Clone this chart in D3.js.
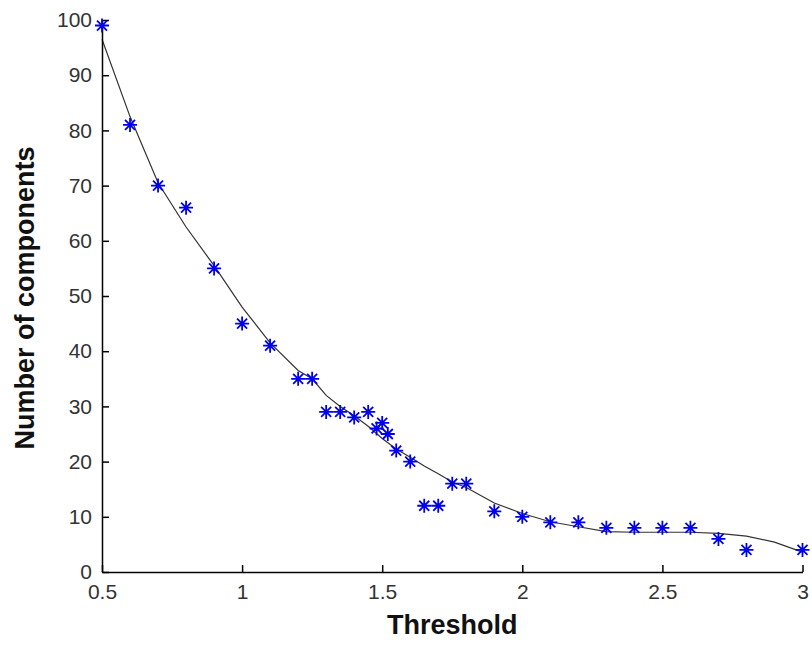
<!DOCTYPE html>
<html>
<head>
<meta charset="utf-8">
<script src="https://cdn.jsdelivr.net/npm/d3@7/dist/d3.min.js"></script>
<style>
  html, body { margin: 0; padding: 0; background: #fff; }
  svg { display: block; }
</style>
</head>
<body>
<svg id="chart" width="812" height="646"></svg>
<script>
// Measured data (threshold vs number of components)
const thresholds = [0.5, 0.6, 0.7, 0.8, 0.9, 1.0, 1.1, 1.2, 1.25, 1.3, 1.35, 1.4, 1.45, 1.48, 1.5, 1.52, 1.55, 1.6, 1.65, 1.7, 1.75, 1.8, 1.9, 2.0, 2.1, 2.2, 2.3, 2.4, 2.5, 2.6, 2.7, 2.8, 3.0];
const components = [99, 81, 70, 66, 55, 45, 41, 35, 35, 29, 29, 28, 29, 26, 27, 25, 22, 20, 12, 12, 16, 16, 11, 10, 9, 9, 8, 8, 8, 8, 6, 4, 4];

// Fitted curve
const fitX = [0.5, 0.6, 0.7, 0.8, 0.9, 1.0, 1.1, 1.2, 1.25, 1.3, 1.35, 1.4, 1.45, 1.5, 1.55, 1.6, 1.65, 1.7, 1.75, 1.8, 1.9, 2.0, 2.1, 2.2, 2.3, 2.4, 2.5, 2.6, 2.7, 2.8, 2.9, 3.0];
const fitY = [96.5, 82.5, 70.5, 62.5, 55.5, 48, 41.5, 36.5, 35, 32, 30, 28.3, 26.4, 24.2, 22.3, 20.8, 19.2, 17.8, 16.3, 15.3, 12.5, 10.6, 9.1, 8.2, 7.3, 7.2, 7.2, 7.2, 7.0, 6.5, 5.4, 3.6];

// Axis ticks
const xTicks = [0.5, 1, 1.5, 2, 2.5, 3];
const xTickLabels = ["0.5", "1", "1.5", "2", "2.5", "3"];
const yTicks = [0, 10, 20, 30, 40, 50, 60, 70, 80, 90, 100];
const xTitle = "Threshold";
const yTitle = "Number of components";

const svg = d3.select("#chart");
const x = d3.scaleLinear().domain([0.5, 3]).range([102, 802.5]);
const y = d3.scaleLinear().domain([0, 100]).range([572, 20]);

// Fitted line
svg.append("path")
  .datum(fitX.map((v, i) => [v, fitY[i]]))
  .attr("fill", "none")
  .attr("stroke", "#333")
  .attr("stroke-width", 1.2)
  .attr("d", d3.line().x(d => x(d[0])).y(d => y(d[1])));

// Axes
const font = "'Liberation Sans', Arial, Helvetica, sans-serif";
const xAxis = svg.append("g")
  .attr("transform", `translate(0,${y(0)})`)
  .call(d3.axisBottom(x).tickValues(xTicks).tickFormat((d, i) => xTickLabels[i]).tickSizeInner(-7).tickSizeOuter(0).tickPadding(12));
const yAxis = svg.append("g")
  .attr("transform", `translate(${x(0.5)},0)`)
  .call(d3.axisLeft(y).tickValues(yTicks).tickSizeInner(-7).tickSizeOuter(0).tickPadding(10));

[xAxis, yAxis].forEach(g => {
  g.select(".domain").attr("stroke", "#000").attr("stroke-width", 1.5);
  g.selectAll(".tick line").attr("stroke", "#000").attr("stroke-width", 1.5);
  g.selectAll(".tick text")
    .attr("fill", "#333")
    .style("font-family", font)
    .style("font-size", "21px");
});
xAxis.selectAll(".tick text").attr("dy", "0.71em");

// Star markers
const star = "M-7,0H7M0,-7V7M-5,-5L5,5M-5,5L5,-5";
svg.append("g")
  .selectAll("path")
  .data(thresholds.map((t, i) => [t, components[i]]))
  .join("path")
  .attr("transform", d => `translate(${x(d[0])},${y(d[1])})`)
  .attr("d", star)
  .attr("fill", "none")
  .attr("stroke", "#0000ee")
  .attr("stroke-width", 1.8);

// Titles
svg.append("text")
  .attr("x", (x(0.5) + x(3)) / 2)
  .attr("y", 634)
  .attr("text-anchor", "middle")
  .style("font-family", font)
  .style("font-size", "27px")
  .style("font-weight", "bold")
  .attr("fill", "#111")
  .text(xTitle);

svg.append("text")
  .attr("transform", `translate(34,${(y(0) + y(100)) / 2 + 2}) rotate(-90)`)
  .attr("text-anchor", "middle")
  .style("font-family", font)
  .style("font-size", "27px")
  .style("font-weight", "bold")
  .attr("fill", "#111")
  .text(yTitle);
</script>
</body>
</html>
